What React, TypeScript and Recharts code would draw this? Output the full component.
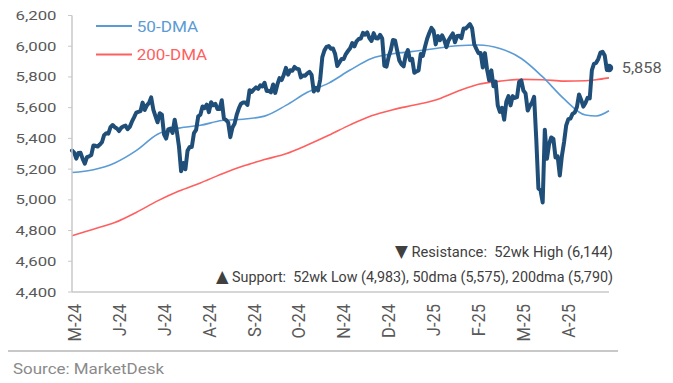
import React from "react";
import { LineChart, Line, XAxis, YAxis } from "recharts";

// S&P 500 daily closes, 21 May 2024 -> 22 May 2025 (252 trading days)
const price: number[] = [
  5321, 5307, 5268, 5305, 5306, 5267, 5236, 5278,
  5283, 5291, 5354, 5352, 5347, 5360, 5375, 5421, 5434, 5431, 5473, 5487, 5473, 5465, 5448, 5469, 5478, 5483, 5460,
  5475, 5509, 5537, 5567, 5572, 5577, 5633, 5585, 5615, 5631, 5667, 5588, 5545, 5505, 5564, 5555, 5427, 5399, 5459, 5464, 5436, 5522,
  5446, 5347, 5186, 5240, 5199, 5319, 5344, 5344, 5434, 5455, 5543, 5554, 5608, 5597, 5620, 5571, 5635, 5616, 5625, 5592, 5592, 5648,
  5529, 5520, 5503, 5408, 5471, 5496, 5554, 5596, 5626, 5634, 5634, 5618, 5714, 5703, 5719, 5732, 5722, 5745, 5738, 5762,
  5709, 5710, 5700, 5751, 5696, 5751, 5792, 5780, 5815, 5859, 5815, 5843, 5841, 5865, 5853, 5851, 5797, 5810, 5808, 5823, 5833, 5813, 5705,
  5729, 5712, 5783, 5929, 5973, 5996, 6001, 5984, 5985, 5949, 5871, 5894, 5917, 5917, 5949, 5969, 5987, 6021, 5999, 6032,
  6047, 6050, 6087, 6075, 6090, 6053, 6034, 6085, 6052, 6051, 6074, 6050, 5872, 5867, 5931, 5974, 6040, 6038, 5971, 5907, 5882,
  5869, 5942, 5975, 5909, 5918, 5827, 5836, 5843, 5950, 5937, 5997, 6049, 6086, 6119, 6101, 6012, 6067, 6039, 6071, 6041,
  5994, 6038, 6061, 6083, 6026, 6066, 6068, 6052, 6115, 6115, 6129, 6144, 6117, 6013, 5983, 5955, 5956, 5861, 5955,
  5850, 5778, 5843, 5739, 5770, 5615, 5572, 5599, 5522, 5639, 5675, 5615, 5675, 5663, 5668, 5768, 5777, 5712, 5693, 5581, 5612,
  5633, 5671, 5397, 5074, 5062, 4983, 5457, 5268, 5363, 5406, 5397, 5276, 5283, 5158, 5288, 5376, 5485, 5525, 5529, 5561, 5569,
  5604, 5686, 5650, 5607, 5631, 5664, 5660, 5844, 5886, 5892, 5917, 5958, 5964, 5940, 5845, 5858,
];

// moving averages at these trading-day positions
const dmaIdx: number[] = [0, 10, 20, 30, 40, 50, 60, 70, 80, 90, 100, 110, 120, 130, 140, 150, 160, 170, 180, 190, 200, 210, 220, 230, 240, 245, 251];
const dma50: number[] = [5178, 5196, 5240, 5320, 5427, 5467, 5485, 5516, 5525, 5545, 5615, 5700, 5760, 5845, 5920, 5951, 5967, 5985, 6003, 6008, 5985, 5920, 5800, 5657, 5552, 5546, 5580];
const dma200: number[] = [4766, 4809, 4852, 4918, 4993, 5057, 5110, 5168, 5220, 5262, 5300, 5357, 5420, 5488, 5547, 5587, 5617, 5650, 5705, 5752, 5773, 5784, 5782, 5773, 5775, 5782, 5794];

const xTickIdx: number[] = [1, 22, 43, 64, 85, 106, 127, 148, 169, 190, 211, 232];
const xTickLabels: string[] = ["M-24", "J-24", "J-24", "A-24", "S-24", "O-24", "N-24", "D-24", "J-25", "F-25", "M-25", "A-25"];
const yTicks: number[] = [4400, 4600, 4800, 5000, 5200, 5400, 5600, 5800, 6000, 6200];

const legendNames: string[] = ["50-DMA", "200-DMA"];
const resistanceText = " Resistance:  52wk High (6,144)";
const supportText = " Support:  52wk Low (4,983), 50dma (5,575), 200dma (5,790)";
const sourceText = "Source: MarketDesk";

const priceData = price.map((p, i) => ({ i, p }));
const dma50Data = dmaIdx.map((i, k) => ({ i, v: dma50[k] }));
const dma200Data = dmaIdx.map((i, k) => ({ i, v: dma200[k] }));

const NAVY = "#1F4E79";
const BLUE = "#5B9BD5";
const RED = "#FF5F5F";
const GRAY = "#595959";
const FONT = "Roboto, sans-serif";

const fmt = (v: number) => v.toLocaleString("en-US");

const YTick = (props: any) => {
  const { y, payload } = props;
  return (
    <text x={56.5} y={y} dy="0.35em" textAnchor="end" fontSize={13} fill={GRAY} fontFamily={FONT}
      textLength={41} lengthAdjust="spacingAndGlyphs">
      {fmt(payload.value)}
    </text>
  );
};

const XTick = (props: any) => {
  const { x, payload } = props;
  const k = xTickIdx.indexOf(payload.value);
  return (
    <g transform={`translate(${x},304)`}>
      <text transform="scale(1.12,1) rotate(-90)" textAnchor="end" dy="0.36em" fontSize={16.5} fill={GRAY} fontFamily={FONT}>
        {k >= 0 ? xTickLabels[k] : ""}
      </text>
    </g>
  );
};

const last = price.length - 1;
const PriceDot = (props: any) => {
  const { cx, cy, index } = props;
  if (index !== last) return <g key={`d${index}`} />;
  return (
    <g key={`d${index}`}>
      <circle cx={cx} cy={cy} r={4.2} fill={NAVY} />
      <text x={cx + 12.7} y={cy} dy="0.36em" fontSize={14.5} fill={GRAY} fontFamily={FONT}
        textLength={40} lengthAdjust="spacingAndGlyphs">
        {fmt(price[last])}
      </text>
    </g>
  );
};

export default function App() {
  return (
    <div style={{ position: "absolute", left: 0, top: 0, width: 673, height: 383, background: "#fff" }}>
      <LineChart width={673} height={383} data={priceData} margin={{ top: 15.5, right: 64, bottom: 0, left: 0 }}>
        <XAxis dataKey="i" type="number" domain={[0, 251]} ticks={xTickIdx} interval={0} height={91}
          tickLine={false} axisLine={{ stroke: "#C8C8C8", strokeWidth: 1.5 }} tick={<XTick />} />
        <YAxis type="number" domain={[4400, 6200]} ticks={yTicks} interval={0} width={72}
          tickSize={4} tickLine={{ stroke: "#C8C8C8" }} axisLine={{ stroke: "#C8C8C8", strokeWidth: 1.5 }} tick={<YTick />} />
        <Line data={dma200Data} dataKey="v" type="monotone" stroke={RED} strokeWidth={1.6} dot={false} isAnimationActive={false} />
        <Line data={dma50Data} dataKey="v" type="monotone" stroke={BLUE} strokeWidth={1.6} dot={false} isAnimationActive={false} />
        <Line dataKey="p" type="linear" stroke={NAVY} strokeWidth={4} strokeLinejoin="round" strokeLinecap="round"
          dot={PriceDot} activeDot={false} isAnimationActive={false} />
      </LineChart>
      <svg width={673} height={383} style={{ position: "absolute", left: 0, top: 0, pointerEvents: "none" }}>
        <line x1={96} x2={132} y1={26} y2={26} stroke={BLUE} strokeWidth={2} />
        <text x={136.7} y={26.7} dy="0.36em" fontSize={14} fill={BLUE} fontFamily={FONT} textLength={61.5} lengthAdjust="spacingAndGlyphs">{legendNames[0]}</text>
        <line x1={96} x2={132} y1={54.5} y2={54.5} stroke={RED} strokeWidth={2} />
        <text x={136.7} y={54.5} dy="0.36em" fontSize={14} fill={RED} fontFamily={FONT} textLength={70.5} lengthAdjust="spacingAndGlyphs">{legendNames[1]}</text>
        <text x={613} y={251.5} dy="0.36em" textAnchor="end" fontSize={15} fill="#404040" fontFamily={FONT}
          style={{ whiteSpace: "pre" }} textLength={218} lengthAdjust="spacingAndGlyphs">
          <tspan fontSize={17} fontFamily="DejaVu Sans">▼</tspan>{resistanceText}
        </text>
        <text x={613} y={277} dy="0.36em" textAnchor="end" fontSize={15} fill="#404040" fontFamily={FONT}
          style={{ whiteSpace: "pre" }} textLength={397} lengthAdjust="spacingAndGlyphs">
          <tspan fontSize={17} fontFamily="DejaVu Sans">▲</tspan>{supportText}
        </text>
        <line x1={8} x2={618} y1={351} y2={351} stroke="#C8C8C8" strokeWidth={2} />
        <text x={13} y={369} dy="0.36em" fontSize={15} fill="#8A8A8A" fontFamily={FONT} textLength={151} lengthAdjust="spacingAndGlyphs">{sourceText}</text>
      </svg>
    </div>
  );
}
